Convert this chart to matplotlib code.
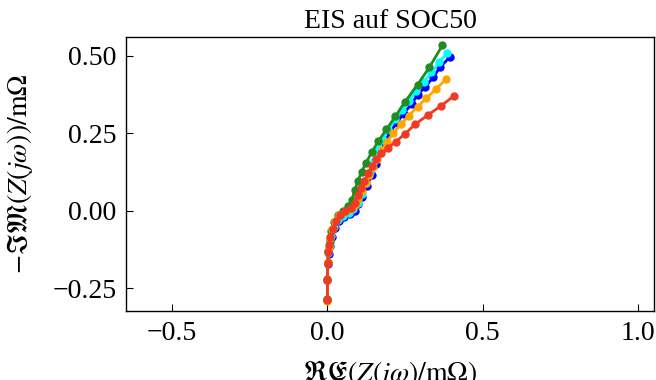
import matplotlib
matplotlib.use('Agg')
from matplotlib import pyplot as plt
from matplotlib.ticker import FuncFormatter

# Nyquist data (Re, -Im in mOhm)
blue_re = [0.393, 0.363, 0.341, 0.315, 0.290, 0.272, 0.245, 0.224, 0.202, 0.185, 0.170, 0.155, 0.142,
           0.128, 0.112, 0.100, 0.088, 0.072, 0.055, 0.038, 0.025, 0.015, 0.008, 0.004, 0.001, 0.0, 0.0]
blue_im = [0.494, 0.463, 0.431, 0.399, 0.374, 0.345, 0.313, 0.284, 0.254, 0.220, 0.185, 0.150, 0.115,
           0.080, 0.045, 0.020, 0.000, -0.012, -0.022, -0.035, -0.055, -0.085, -0.115, -0.140, -0.172, -0.225, -0.287]

cyan_re = [0.385, 0.360, 0.335, 0.310, 0.285, 0.262, 0.240, 0.218, 0.196, 0.178, 0.163, 0.150, 0.137,
           0.124, 0.110, 0.097, 0.084, 0.068, 0.050, 0.034, 0.022, 0.013, 0.007, 0.003, 0.001, 0.0, 0.0]
cyan_im = [0.508, 0.478, 0.446, 0.414, 0.385, 0.354, 0.325, 0.294, 0.262, 0.228, 0.194, 0.160, 0.125,
           0.090, 0.055, 0.026, 0.004, -0.009, -0.019, -0.032, -0.052, -0.082, -0.112, -0.138, -0.170, -0.225, -0.287]

green_re = [0.370, 0.328, 0.290, 0.249, 0.219, 0.190, 0.164, 0.143, 0.125, 0.110, 0.098, 0.088, 0.079,
            0.067, 0.050, 0.034, 0.022, 0.013, 0.007, 0.003, 0.001, 0.0, 0.0]
green_im = [0.533, 0.462, 0.406, 0.350, 0.304, 0.262, 0.224, 0.189, 0.155, 0.125, 0.095, 0.065, 0.035,
            0.014, 0.000, -0.015, -0.038, -0.066, -0.098, -0.132, -0.168, -0.222, -0.284]

orange_re = [0.382, 0.350, 0.318, 0.290, 0.262, 0.236, 0.212, 0.192, 0.175, 0.160, 0.146, 0.134, 0.123,
             0.112, 0.100, 0.090, 0.076, 0.057, 0.038, 0.024, 0.014, 0.008, 0.004, 0.001, 0.0, 0.0]
orange_im = [0.424, 0.392, 0.362, 0.335, 0.306, 0.278, 0.250, 0.222, 0.195, 0.168, 0.142, 0.116, 0.090,
             0.062, 0.036, 0.018, 0.006, -0.003, -0.014, -0.034, -0.060, -0.090, -0.122, -0.165, -0.225, -0.292]

red_re = [0.406, 0.366, 0.323, 0.282, 0.250, 0.220, 0.195, 0.174, 0.158, 0.145, 0.132, 0.119, 0.107,
          0.097, 0.088, 0.075, 0.058, 0.040, 0.027, 0.017, 0.010, 0.006, 0.003, 0.001, 0.0, 0.0]
red_im = [0.369, 0.338, 0.308, 0.278, 0.248, 0.222, 0.202, 0.185, 0.165, 0.143, 0.120, 0.097, 0.073,
          0.049, 0.025, 0.008, -0.002, -0.015, -0.035, -0.058, -0.085, -0.110, -0.135, -0.170, -0.224, -0.288]

x_ticks = [-0.5, 0.0, 0.5, 1.0]
y_ticks = [-0.25, 0.0, 0.25, 0.5]

plt.rcParams['font.family'] = ['Liberation Serif', 'DejaVu Serif']
plt.rcParams['mathtext.fontset'] = 'stix'
plt.rcParams['font.size'] = 20


def minus_fmt(fmt):
    return FuncFormatter(lambda v, pos: (fmt % v).replace('-', '\u2212'))


def plot_nyquist():
    fig = plt.figure(figsize=(6.56, 3.8), dpi=100)
    ax = fig.add_axes([126 / 656, 1 - 311 / 380, (654 - 126) / 656, (311 - 36.7) / 380])

    series = [
        (blue_re, blue_im, 'blue'),
        (cyan_re, cyan_im, 'cyan'),
        (green_re, green_im, 'forestgreen'),
        (orange_re, orange_im, 'orange'),
        (red_re, red_im, '#f03a24'),
    ]
    for re_vals, im_vals, color in series:
        ax.plot(re_vals, im_vals, '-o', color=color, lw=2.0, ms=5)

    ax.set_xlim(-0.648, 1.051)
    ax.set_ylim(-0.324, 0.561)
    ax.set_xticks(x_ticks)
    ax.set_yticks(y_ticks)
    ax.xaxis.set_major_formatter(minus_fmt('%.1f'))
    ax.yaxis.set_major_formatter(minus_fmt('%.2f'))
    ax.tick_params(direction='in', length=5, width=0.8, pad=7)
    for spine in ax.spines.values():
        spine.set_linewidth(1.0)

    ax.set_title('EIS auf SOC50', fontsize=20)
    ax.set_xlabel(r'$\Re\mathfrak{E}(Z(j\omega)/\mathrm{m}\Omega)$', labelpad=9)
    ax.set_ylabel(r'$-\Im\mathfrak{M}(Z(j\omega))/\mathrm{m}\Omega$', labelpad=12)

    fig.savefig('out.png', dpi=100)


if __name__ == '__main__':
    plot_nyquist()
